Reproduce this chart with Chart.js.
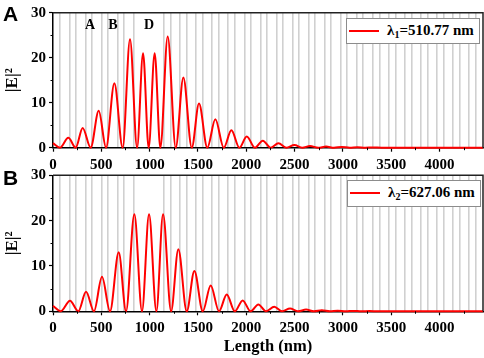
<!DOCTYPE html>
<html>
<head>
<meta charset="utf-8">
<script src="https://cdn.jsdelivr.net/npm/chart.js@4.4.1/dist/chart.umd.min.js"></script>
<style>
  body { margin: 0; background: #fff; }
  #wrap { position: relative; width: 484px; height: 358px; overflow: hidden; }
  canvas { position: absolute; left: 0; }
  .panel { position: absolute; font: bold 21px "Liberation Sans", Arial, sans-serif; line-height: 1; z-index: 2; }
  .note { position: absolute; font: bold 14px "Liberation Serif", serif; line-height: 1; transform: translate(-50%, -50%); z-index: 2; }
  .legend { position: absolute; box-sizing: border-box; border: 1px solid #8c8c8c; background: #fff; z-index: 2;
            font: bold 15px "Liberation Serif", serif; white-space: nowrap; }
  .legend .swatch { position: absolute; left: 2px; top: 11px; width: 30px; height: 2px; background: #ff0000; }
  .legend .txt { position: absolute; left: 40px; top: 4px; line-height: 1; }
  .legend sub { font-size: 10px; vertical-align: -3px; }
</style>
</head>
<body>
<div id="wrap">
  <canvas id="chartA" width="484" height="175" style="top:0"></canvas>
  <canvas id="chartB" width="484" height="198" style="top:160px"></canvas>
  <div class="panel" style="left:3px; top:3px">A</div>
  <div class="panel" style="left:3px; top:167px">B</div>
  <div class="note" style="left:90px; top:25px">A</div>
  <div class="note" style="left:113px; top:25px">B</div>
  <div class="note" style="left:149px; top:25px">D</div>
  <div class="legend" style="left:346px; top:18px; width:134px; height:26px">
    <span class="swatch"></span><span class="txt">λ<sub>1</sub>=510.77 nm</span>
  </div>
  <div class="legend" style="left:347px; top:180px; width:134px; height:27px">
    <span class="swatch"></span><span class="txt">λ<sub>2</sub>=627.06 nm</span>
  </div>
</div>
<script>
// Length (nm) and |E|^2 (peaks and minima)
const lenA = [0, 72, 159, 235, 307, 390, 473, 549, 635, 721, 797, 870, 932, 990, 1052, 1111, 1187, 1270,
  1349, 1436, 1511, 1597, 1680, 1767, 1846, 1929, 2005, 2090, 2171, 2252, 2333, 2415, 2498, 2580,
  2660, 2745, 2826, 2908, 2989, 3070, 3150, 3230, 3310, 3400, 4450];
const fieldA = [1.0, 0, 2.2, 0, 4.4, 0, 8.2, 0, 14.3, 0, 24.1, 0, 21.0, 0, 21.0, 0, 24.7, 0,
  15.6, 0, 9.8, 0, 6.3, 0, 3.9, 0, 2.5, 0, 1.55, 0, 1.0, 0, 0.6, 0,
  0.38, 0, 0.24, 0, 0.15, 0, 0.09, 0, 0.05, 0, 0];

const lenB = [0, 80, 176, 262, 342, 424, 507, 590, 680, 756, 842, 921, 994, 1070, 1139, 1222,
  1297, 1384, 1463, 1550, 1632, 1718, 1798, 1881, 1963, 2045, 2125, 2205, 2290, 2370, 2453, 2535,
  2619, 2700, 2782, 2865, 2945, 3030, 3110, 3190, 3275, 3360, 4450];
const fieldB = [1.2, 0, 2.3, 0, 4.3, 0, 7.6, 0, 13.0, 0, 21.4, 0, 21.4, 0, 21.4, 0,
  13.7, 0, 8.9, 0, 5.7, 0, 3.7, 0, 2.4, 0, 1.5, 0, 1.0, 0, 0.6, 0,
  0.37, 0, 0.22, 0, 0.13, 0, 0.08, 0, 0.05, 0, 0];

// layer interfaces (gray lines), nm
const layerEdges = [72, 169, 238, 335, 404, 501, 570, 667, 736, 833,
  1150, 1219, 1316, 1385, 1482, 1551, 1648, 1717, 1814, 1883, 1980, 2049, 2146, 2215, 2312, 2381,
  2478, 2547, 2644, 2713, 2810, 2879, 2976, 3045, 3142, 3211, 3308, 3377, 3474, 3543, 3640, 3709,
  3806, 3875, 3972, 4041, 4138, 4207, 4304, 4373];

const xTicks = [0, 500, 1000, 1500, 2000, 2500, 3000, 3500, 4000];
const xMinor = [250, 750, 1250, 1750, 2250, 2750, 3250, 3750, 4250];
const yTicks = [0, 10, 20, 30];
const yMinor = [5, 15, 25];
const xMax = 4450;

const serif = '"Liberation Serif", "Times New Roman", serif';

const framePlugin = {
  id: 'frame',
  afterDraw(chart) {
    const { ctx, chartArea: a, scales } = chart;
    ctx.save();
    ctx.strokeStyle = '#222';
    ctx.lineWidth = 1.5;
    ctx.beginPath();
    ctx.moveTo(a.left, a.top);
    ctx.lineTo(a.right, a.top);
    ctx.lineTo(a.right, a.bottom);
    ctx.stroke();
    // minor ticks
    ctx.strokeStyle = '#000';
    ctx.lineWidth = 1;
    ctx.beginPath();
    xMinor.forEach(v => {
      const px = Math.round(scales.x.getPixelForValue(v)) + 0.5;
      ctx.moveTo(px, a.bottom);
      ctx.lineTo(px, a.bottom + 2.5);
    });
    yMinor.forEach(v => {
      const py = Math.round(scales.y.getPixelForValue(v)) + 0.5;
      ctx.moveTo(a.left, py);
      ctx.lineTo(a.left - 2.5, py);
    });
    ctx.stroke();
    ctx.restore();
  }
};

function makeChart(id, lens, field, label, padTop, xHeight, withTitle) {
  return new Chart(document.getElementById(id), {
    type: 'line',
    data: {
      datasets: [{
        label: label,
        data: lens.map((x, i) => ({ x: x, y: field[i] })),
        borderColor: '#ff0000',
        borderWidth: 2,
        pointRadius: 0,
        cubicInterpolationMode: 'monotone',
        fill: false,
        clip: false
      }]
    },
    options: {
      responsive: false,
      animation: false,
      layout: { padding: { top: padTop, right: 1, left: 0, bottom: 0 } },
      plugins: { legend: { display: false }, tooltip: { enabled: false } },
      scales: {
        x: {
          type: 'linear', min: 0, max: xMax,
          afterBuildTicks: s => { s.ticks = xTicks.map(v => ({ value: v })); },
          afterFit: s => { s.height = xHeight; },
          grid: { drawOnChartArea: false, tickLength: 4, tickColor: '#000', tickWidth: 1.2 },
          border: { color: '#000', width: 1.5 },
          ticks: {
            color: '#000', maxRotation: 0, padding: 4,
            font: { family: serif, size: 15, weight: 'bold' },
            callback: v => String(v)
          },
          title: {
            display: withTitle, text: 'Length (nm)', color: '#000',
            padding: { top: 0, bottom: 1 },
            font: { family: serif, size: 16.5, weight: 'bold' }
          }
        },
        layers: {
          type: 'linear', position: 'bottom', min: 0, max: xMax,
          afterBuildTicks: s => { s.ticks = layerEdges.map(v => ({ value: v })); },
          afterFit: s => { s.height = 0; },
          grid: { color: '#d0d0d0', lineWidth: 1.6, drawTicks: false },
          border: { display: false },
          ticks: { display: false }
        },
        y: {
          min: 0, max: 30,
          afterBuildTicks: s => { s.ticks = yTicks.map(v => ({ value: v })); },
          afterFit: s => { s.width = 53; },
          grid: { drawOnChartArea: false, tickLength: 4, tickColor: '#000', tickWidth: 1.2 },
          border: { color: '#000', width: 1.5 },
          ticks: {
            color: '#000', padding: 3,
            font: { family: serif, size: 15, weight: 'bold' },
            callback: v => String(v)
          },
          title: {
            display: true, text: '|E|²', color: '#000',
            padding: { top: 2, bottom: 0 },
            font: { family: serif, size: 17, weight: 'bold' }
          }
        }
      }
    },
    plugins: [framePlugin]
  });
}

makeChart('chartA', lenA, fieldA, 'λ1=510.77 nm', 12.7, 27.3, false);
makeChart('chartB', lenB, fieldB, 'λ2=627.06 nm', 15.3, 46.7, true);
</script>
</body>
</html>
